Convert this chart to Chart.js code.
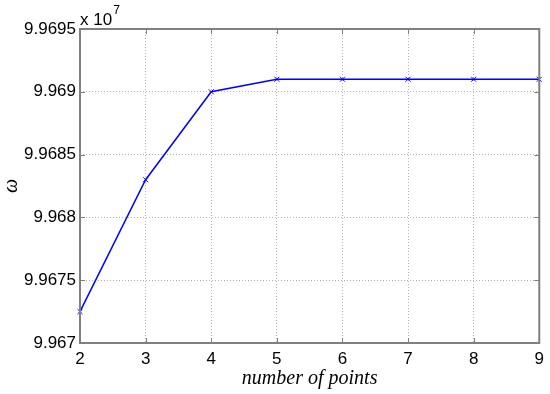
<!DOCTYPE html>
<html>
<head>
<meta charset="utf-8">
<script src="https://cdn.jsdelivr.net/npm/chart.js@4"></script>
<style>
html,body{margin:0;padding:0;background:#fff;}
#wrap{width:550px;height:394px;position:relative;}
</style>
</head>
<body>
<div id="wrap"><canvas id="c" width="550" height="394"></canvas></div>
<script>
const pointCounts = [2, 3, 4, 5, 6, 7, 8, 9];
const omegaValues = [9.96725, 9.9683, 9.969, 9.9691, 9.9691, 9.9691, 9.9691, 9.9691]; // x 10^7
const yTickValues = [9.967, 9.9675, 9.968, 9.9685, 9.969, 9.9695];
const xTickValues = [2, 3, 4, 5, 6, 7, 8, 9];
const yExponentLabel = ['x 10', '7'];
const xTitle = 'number of points';
const yTitle = 'ω';

const boxPlugin = {
  id: 'matlabBox',
  afterDraw(chart) {
    const {ctx, chartArea: a, scales} = chart;
    ctx.save();
    ctx.strokeStyle = '#7f7f7f';
    ctx.lineWidth = 1;
    ctx.beginPath();
    xTickValues.forEach(v => {
      const x = Math.round(scales.x.getPixelForValue(v)) + 0.5;
      ctx.moveTo(x, a.bottom); ctx.lineTo(x, a.bottom - 5);
      ctx.moveTo(x, a.top); ctx.lineTo(x, a.top + 5);
    });
    yTickValues.forEach(v => {
      const y = Math.round(scales.y.getPixelForValue(v)) + 0.5;
      ctx.moveTo(a.left, y); ctx.lineTo(a.left + 5, y);
      ctx.moveTo(a.right, y); ctx.lineTo(a.right - 5, y);
    });
    ctx.stroke();
    ctx.lineWidth = 2;
    ctx.strokeStyle = '#808080';
    ctx.strokeRect(a.left, a.top, a.right - a.left, a.bottom - a.top);
    ctx.fillStyle = '#000';
    ctx.textBaseline = 'alphabetic';
    ctx.textAlign = 'left';
    ctx.font = '17px "Liberation Sans", Arial, sans-serif';
    ctx.fillText(yExponentLabel[0], a.left, a.top - 4);
    const w = ctx.measureText(yExponentLabel[0]).width;
    ctx.font = '12px "Liberation Sans", Arial, sans-serif';
    ctx.fillText(yExponentLabel[1], a.left + w + 1, a.top - 15);
    ctx.restore();
  }
};

new Chart(document.getElementById('c'), {
  type: 'line',
  data: {
    datasets: [{
      data: pointCounts.map((x, i) => ({x: x, y: omegaValues[i]})),
      borderColor: '#0000ff',
      backgroundColor: '#0000ff',
      borderWidth: 1.5,
      pointStyle: 'cross',
      rotation: 45,
      pointRadius: 3.5,
      pointBorderWidth: 1,
      pointBorderColor: '#0000ff',
      tension: 0,
      clip: false
    }]
  },
  options: {
    responsive: false,
    animation: false,
    devicePixelRatio: 1,
    layout: {padding: {left: 0, top: 29, right: 7, bottom: 0}},
    plugins: {legend: {display: false}, tooltip: {enabled: false}},
    scales: {
      x: {
        type: 'linear',
        min: 2, max: 9,
        afterBuildTicks(scale) { scale.ticks = xTickValues.map(v => ({value: v})); },
        afterFit(scale) { scale.height = 51; },
        border: {display: false, dash: [1, 2]},
        grid: {color: '#b4b4b4', lineWidth: 1, drawTicks: false},
        ticks: {color: '#000', padding: 6, font: {family: '"Liberation Sans", Arial, sans-serif', size: 17}},
        title: {display: true, text: xTitle, color: '#000', padding: {top: 0, bottom: 3},
          font: {family: '"Liberation Serif", "Times New Roman", serif', size: 20, style: 'italic'}}
      },
      y: {
        type: 'linear',
        min: 9.967, max: 9.9695,
        afterBuildTicks(scale) { scale.ticks = yTickValues.map(v => ({value: v})); },
        afterFit(scale) { scale.width = 80; },
        border: {display: false, dash: [1, 2]},
        grid: {color: '#b4b4b4', lineWidth: 1, drawTicks: false},
        ticks: {color: '#000', padding: 4, font: {family: '"Liberation Sans", Arial, sans-serif', size: 17},
          callback: v => String(parseFloat(v.toFixed(4)))},
        title: {display: true, text: yTitle, color: '#000', padding: {top: 0, bottom: 0},
          font: {family: '"Liberation Serif", "Times New Roman", serif', size: 20, style: 'italic'}}
      }
    }
  },
  plugins: [boxPlugin]
});
</script>
</body>
</html>
